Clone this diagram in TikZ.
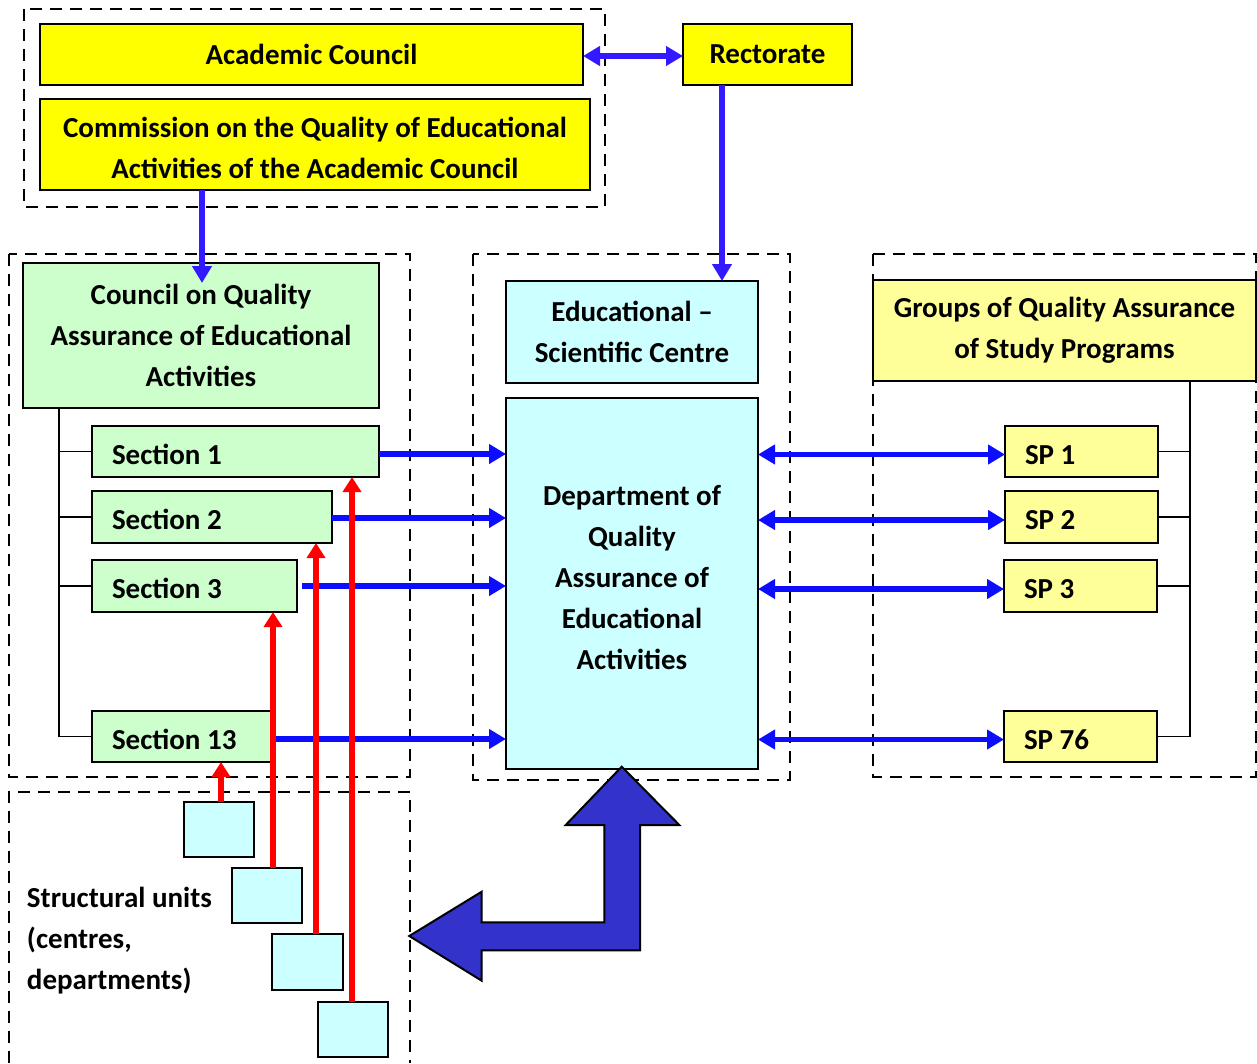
\documentclass[tikz,border=0pt]{standalone}
\usepackage{fontspec}
\setmainfont{Carlito}
\usetikzlibrary{arrows.meta,calc}
\definecolor{ybright}{RGB}{255,255,0}
\definecolor{ypale}{RGB}{255,255,153}
\definecolor{gpale}{RGB}{204,255,204}
\definecolor{cpale}{RGB}{204,255,255}
\definecolor{violetblue}{RGB}{51,25,255}
\definecolor{pureblue}{RGB}{12,12,255}
\definecolor{bigblue}{RGB}{51,51,204}
\definecolor{redline}{RGB}{255,0,0}
% left-aligned label of a given width
\newcommand{\leftlabel}[2]{\makebox[#1][l]{#2}}

\begin{document}
\begin{tikzpicture}[x=1pt,y=-1pt,
  lbl/.style={font=\fontsize{29}{41}\selectfont\bfseries, inner sep=0pt, outer sep=0pt},
  box/.style={lbl, draw=black, line width=1.8pt, align=center},
  lbox/.style={box, inner xsep=20pt, text height=25.5pt, text depth=0pt},
  group/.style={draw=black, line width=1.5pt, dash pattern=on 12pt off 8pt},
  tree/.style={draw=black, line width=1.8pt},
  headend/.style={-{Triangle[length=17pt,width=19pt]}},
  headboth/.style={{Triangle[length=17pt,width=19pt]}-{Triangle[length=17pt,width=19pt]}},
  toparrow/.style={draw=violetblue, line width=6pt},
  linkarrow/.style={draw=pureblue, line width=5.5pt},
  redarrow/.style={draw=redline, line width=6.5pt, -{Triangle[length=15pt,width=18pt]}},
]
\useasboundingbox (0,0) rectangle (1257,1063);

% dashed groupings
\draw[group] (24,9) rectangle (605,207);
\draw[group] (9,254) rectangle (410,777);
\draw[group] (473,254) rectangle (790,780);
\draw[group] (873,254) rectangle (1256,777);
\draw[group] (9,1063) -- (9,792) -- (410,792) -- (410,1063);

% governing bodies
\node[box, fill=ybright, minimum width=543pt, minimum height=61pt] (ac) at (311.5,54.5) {Academic Council};
\node[box, fill=ybright, minimum width=550pt, minimum height=91pt] (comm) at (315,144.5) {};
\node[lbl, align=center] (commtext) at (315,147.5)
  {Commission on the Quality of Educational\\Activities of the Academic Council};
\node[box, fill=ybright, minimum width=169pt, minimum height=61pt] (rect) at (767.5,54.5) {Rectorate};

% council and its sections
\node[box, fill=gpale, minimum width=356pt, minimum height=145pt] (council) at (201,335.5)
  {Council on Quality\\Assurance of Educational\\Activities};
\node[lbox, fill=gpale, minimum height=51pt] (sec1) at (235.5,451.5) {\leftlabel{247pt}{Section 1}};
\node[lbox, fill=gpale, minimum height=52pt] (sec2) at (212,517) {\leftlabel{200pt}{Section 2}};
\node[lbox, fill=gpale, minimum height=52pt] (sec3) at (194.5,586) {\leftlabel{165pt}{Section 3}};
\node[lbox, fill=gpale, minimum height=51pt] (sec13) at (181.5,736.5) {\leftlabel{139pt}{Section 13}};

% central units
\node[box, fill=cpale, minimum width=252pt, minimum height=102pt] (edu) at (632,332)
  {Educational --\\Scientific Centre};
\node[box, fill=cpale, minimum width=252pt, minimum height=371pt] (dept) at (632,583.5) {};
\node[lbl, align=center] (depttext) at (632,577.5)
  {Department of\\Quality\\Assurance of\\Educational\\Activities};

% study programme groups
\node[box, fill=ypale, minimum width=383pt, minimum height=101pt] (groups) at (1064.5,330.5)
  {Groups of Quality Assurance\\of Study Programs};
\node[lbox, fill=ypale, minimum height=51pt] (sp1) at (1081.5,451.5) {\leftlabel{113pt}{SP 1}};
\node[lbox, fill=ypale, minimum height=52pt] (sp2) at (1081.5,517) {\leftlabel{113pt}{SP 2}};
\node[lbox, fill=ypale, minimum height=52pt] (sp3) at (1080.5,586) {\leftlabel{113pt}{SP 3}};
\node[lbox, fill=ypale, minimum height=51pt] (sp76) at (1080.5,736.5) {\leftlabel{113pt}{SP 76}};

% structural units
\node[lbl, anchor=west, align=left] (units) at (27,941)
  {Structural units\\(centres,\\departments)};
\node[box, fill=cpale, minimum width=70pt, minimum height=55pt] (u1) at (219,829.5) {};
\node[box, fill=cpale, minimum width=70pt, minimum height=55pt] (u2) at (267,895.5) {};
\node[box, fill=cpale, minimum width=71pt, minimum height=56pt] (u3) at (307.5,962) {};
\node[box, fill=cpale, minimum width=70pt, minimum height=55pt] (u4) at (353,1029.5) {};

% hierarchy lines
\coordinate (lt) at ([xshift=-142pt]council.south);
\draw[tree] (lt) |- (sec13.west);
\foreach \s in {sec1,sec2,sec3} \draw[tree] (\s.west) -- (\s.west -| lt);
\coordinate (rt) at ([xshift=125.5pt]groups.south);
\draw[tree] (rt) |- (sp76.east);
\foreach \s in {sp1,sp2,sp3} \draw[tree] (\s.east) -- (\s.east -| rt);

% top connections
\draw[toparrow, headboth] ([yshift=-1.5pt]ac.east) -- ([yshift=-1.5pt]rect.west);
\draw[toparrow, headend] ([xshift=-45.5pt]rect.south) -- ([xshift=-45.5pt]rect.south |- edu.north);
\draw[toparrow, headend] ([xshift=-113pt]comm.south) -- ++(0,93);

% sections report to the department
\draw[linkarrow, headend] ([yshift=-2.5pt]sec1.east) -- ([yshift=-2.5pt]sec1.east -| dept.west);
\draw[linkarrow, headend] ([yshift=-1pt]sec2.east) -- ([yshift=-1pt]sec2.east -| dept.west);
\draw[linkarrow, headend] ([xshift=5pt]sec3.east) -- (sec3.east -| dept.west);
\draw[linkarrow, headend] ([xshift=2pt,yshift=-2.5pt]sec13.east) -- ([yshift=-2.5pt]sec13.east -| dept.west);

% department and study programmes
\foreach \s in {sp1,sp2,sp3,sp76}
  \draw[linkarrow, headboth] ([yshift=-3pt]dept.east |- \s.west) -- ([yshift=-3pt]\s.west);

% structural units feed the sections
\draw[redarrow] ([xshift=2pt]u1.north) -- ([xshift=2pt]u1.north |- sec13.south);
\draw[redarrow] ([xshift=6pt]u2.north) -- ([xshift=6pt]u2.north |- sec3.south);
\draw[redarrow] ([xshift=8.5pt]u3.north) -- ([xshift=8.5pt]u3.north |- sec2.south);
\draw[redarrow] ([xshift=-1pt]u4.north) -- ([xshift=-1pt]u4.north |- sec1.south);

% elbow arrow between the department and the structural units
\draw[line width=2pt, line join=miter, fill=bigblue]
  (621.7,766.7) -- (679.3,825) -- (640,825) -- (640,950.3) -- (481.7,950.3)
  -- (481.7,980.7) -- (409.3,936) -- (481.7,891.7) -- (481.7,922.3)
  -- (604.3,922.3) -- (604.3,825) -- (565.7,825) -- cycle;
\end{tikzpicture}
\end{document}
